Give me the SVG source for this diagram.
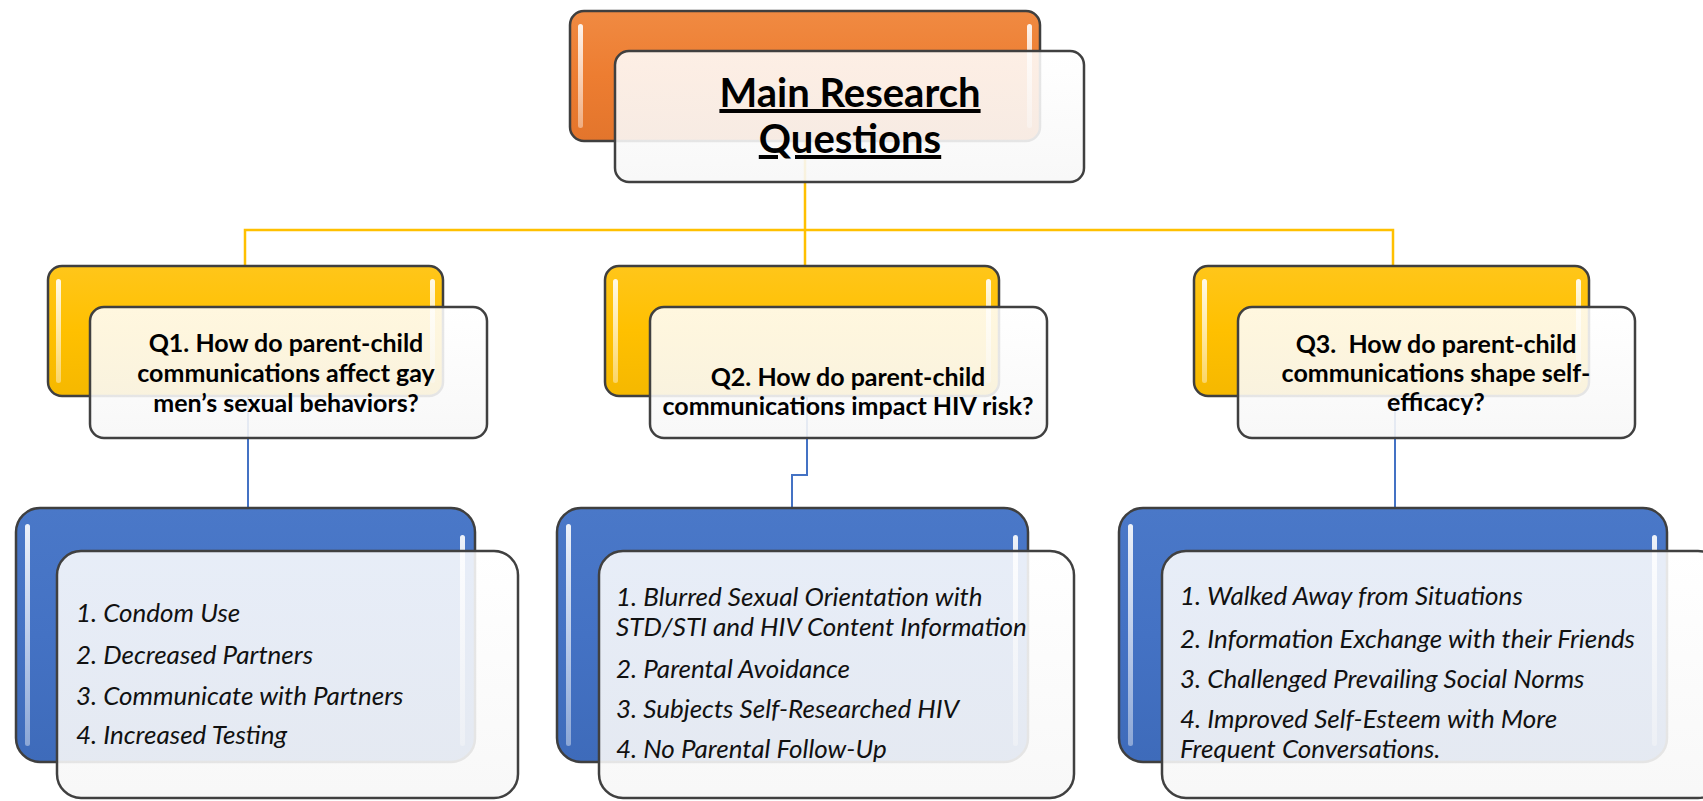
<svg xmlns="http://www.w3.org/2000/svg" width="1703" height="801" viewBox="0 0 1703 801">
<defs>
<linearGradient id="og" x1="0" y1="0" x2="0" y2="1"><stop offset="0" stop-color="#F08A42"/><stop offset="0.5" stop-color="#ED7D31"/><stop offset="1" stop-color="#E3752C"/></linearGradient>
<linearGradient id="yg" x1="0" y1="0" x2="0" y2="1"><stop offset="0" stop-color="#FFC61A"/><stop offset="0.5" stop-color="#FFC000"/><stop offset="1" stop-color="#F5B800"/></linearGradient>
<linearGradient id="bg" x1="0" y1="0" x2="0" y2="1"><stop offset="0" stop-color="#4A78C8"/><stop offset="0.5" stop-color="#4472C4"/><stop offset="1" stop-color="#3E6BBA"/></linearGradient>
<linearGradient id="cg" x1="0" y1="0" x2="0" y2="1"><stop offset="0" stop-color="#FFFFFF" stop-opacity="0.87"/><stop offset="1" stop-color="#F7F7F7" stop-opacity="0.9"/></linearGradient>
<linearGradient id="hl" x1="0" y1="0" x2="0" y2="1"><stop offset="0" stop-color="#FFFFFF" stop-opacity="0.9"/><stop offset="1" stop-color="#FFFFFF" stop-opacity="0.4"/></linearGradient>
</defs>
<style>
.box{stroke:#3f3f3f;stroke-width:2.5}
.card{fill:url(#cg);stroke:#404040;stroke-width:2.5}
.hl{fill:url(#hl)}
.qt{font-family:Lato,'Liberation Sans',sans-serif;font-weight:bold;font-size:25px;fill:#000;text-anchor:middle;white-space:pre}
.mt{font-family:Lato,'Liberation Sans',sans-serif;font-weight:bold;font-size:40px;fill:#000;text-anchor:middle;text-decoration:underline}
.it{font-family:Lato,'Liberation Sans',sans-serif;font-style:italic;font-size:26px;fill:#111}
.yc{stroke:#FFC000;stroke-width:2.5;fill:none}
.bc{stroke:#4472C4;stroke-width:2;fill:none}
</style>
<g id="connectors">
<path class="yc" d="M805 141 V230 M245 266 V230 H1393 V266 M805 230 V266"/>
<path class="bc" d="M248 396 V508 M807 396 V475 H792 V508 M1395 396 V508"/>
</g>
<g id="main">
<rect class="box" x="570" y="11" width="470" height="130" rx="14" fill="url(#og)"/>
<rect class="hl" x="578" y="24" width="5" height="104" rx="2.5"/>
<rect class="hl" x="1027" y="24" width="5" height="104" rx="2.5"/>
<rect class="card" x="615" y="51" width="469" height="131" rx="14"/>
<text class="mt" x="850" y="107">Main Research</text>
<text class="mt" x="850" y="153">Questions</text>
</g>
<g id="q1">
<rect class="box" x="48" y="266" width="395" height="130" rx="14" fill="url(#yg)"/>
<rect class="hl" x="56" y="279" width="5" height="104" rx="2.5"/>
<rect class="hl" x="430" y="279" width="5" height="104" rx="2.5"/>
<rect class="card" x="90" y="307" width="397" height="131" rx="14"/>
<text class="qt" x="286" y="352">Q1. How do parent-child</text>
<text class="qt" x="286" y="382">communications affect gay</text>
<text class="qt" x="286" y="412">men’s sexual behaviors?</text>
</g>
<g id="q2">
<rect class="box" x="605" y="266" width="394" height="130" rx="14" fill="url(#yg)"/>
<rect class="hl" x="613" y="279" width="5" height="104" rx="2.5"/>
<rect class="hl" x="986" y="279" width="5" height="104" rx="2.5"/>
<rect class="card" x="650" y="307" width="397" height="131" rx="14"/>
<text class="qt" x="848" y="386">Q2. How do parent-child</text>
<text class="qt" x="848" y="415">communications impact HIV risk?</text>
</g>
<g id="q3">
<rect class="box" x="1194" y="266" width="395" height="130" rx="14" fill="url(#yg)"/>
<rect class="hl" x="1202" y="279" width="5" height="104" rx="2.5"/>
<rect class="hl" x="1576" y="279" width="5" height="104" rx="2.5"/>
<rect class="card" x="1238" y="307" width="397" height="131" rx="14"/>
<text class="qt" x="1436" y="353">Q3.  How do parent-child</text>
<text class="qt" x="1436" y="382">communications shape self-</text>
<text class="qt" x="1436" y="411">efficacy?</text>
</g>
<g id="a1">
<rect class="box" x="16" y="508" width="459" height="254" rx="24" fill="url(#bg)"/>
<rect class="hl" x="25" y="524" width="5" height="222" rx="2.5"/>
<rect class="hl" x="460" y="535" width="5" height="211" rx="2.5"/>
<rect class="card" x="57" y="551" width="461" height="247" rx="24"/>
<text class="it" x="76" y="622">1. Condom Use</text>
<text class="it" x="76" y="664">2. Decreased Partners</text>
<text class="it" x="76" y="705">3. Communicate with Partners</text>
<text class="it" x="76" y="744">4. Increased Testing</text>
</g>
<g id="a2">
<rect class="box" x="557" y="508" width="471" height="254" rx="24" fill="url(#bg)"/>
<rect class="hl" x="566" y="524" width="5" height="222" rx="2.5"/>
<rect class="hl" x="1013" y="535" width="5" height="211" rx="2.5"/>
<rect class="card" x="599" y="551" width="475" height="247" rx="24"/>
<text class="it" x="616" y="606">1. Blurred Sexual Orientation with</text>
<text class="it" x="616" y="636">STD/STI and HIV Content Information</text>
<text class="it" x="616" y="678">2. Parental Avoidance</text>
<text class="it" x="616" y="718">3. Subjects Self-Researched HIV</text>
<text class="it" x="616" y="758">4. No Parental Follow-Up</text>
</g>
<g id="a3">
<rect class="box" x="1119" y="508" width="548" height="254" rx="24" fill="url(#bg)"/>
<rect class="hl" x="1128" y="524" width="5" height="222" rx="2.5"/>
<rect class="hl" x="1652" y="535" width="5" height="211" rx="2.5"/>
<rect class="card" x="1162" y="551" width="560" height="247" rx="24"/>
<text class="it" x="1180" y="605">1. Walked Away from Situations</text>
<text class="it" x="1180" y="648" textLength="455" lengthAdjust="spacingAndGlyphs">2. Information Exchange with their Friends</text>
<text class="it" x="1180" y="688">3. Challenged Prevailing Social Norms</text>
<text class="it" x="1180" y="728">4. Improved Self-Esteem with More</text>
<text class="it" x="1180" y="758">Frequent Conversations.</text>
</g>
</svg>
